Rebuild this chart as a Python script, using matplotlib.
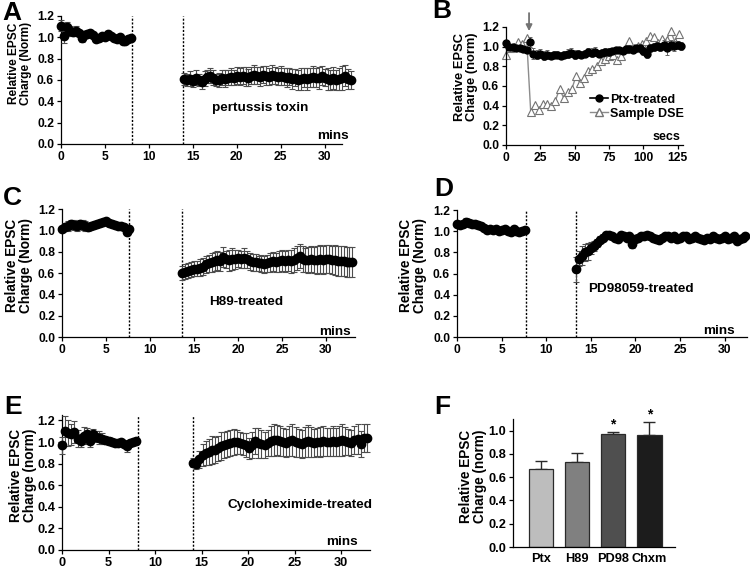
import numpy as np
import matplotlib
matplotlib.use("Agg")
import matplotlib.pyplot as plt

plt.rcParams["font.family"] = ["Liberation Sans", "DejaVu Sans"]
plt.rcParams["font.weight"] = "bold"
plt.rcParams["axes.labelweight"] = "bold"

DT = 1 / 3.0  # sampling interval (min)

# ---- panel A: pertussis toxin ----
a_base_t0, a_post_t0 = 0.0, 14.0
a_base = [1.11, 1.01, 1.10, 1.06, 1.05, 1.06, 1.04, 0.99, 1.02, 1.03, 1.04, 1.02, 0.98,
          0.99, 1.01, 1.00, 1.03, 1.01, 0.99, 0.98, 1.00, 0.97, 0.97, 0.98, 0.99]
a_base_err = [0.05, 0.06, 0.04, 0.05, 0.04, 0.05, 0.03, 0.03, 0.03, 0.03, 0.02, 0.03, 0.02,
              0.02, 0.02, 0.02, 0.02, 0.02, 0.02, 0.02, 0.02, 0.02, 0.02, 0.02, 0.02]
a_post = [0.61, 0.60, 0.61, 0.59, 0.62, 0.60, 0.58, 0.61, 0.63, 0.64,
          0.62, 0.60, 0.60, 0.62, 0.61, 0.62, 0.63, 0.62, 0.64, 0.63,
          0.64, 0.63, 0.62, 0.64, 0.65, 0.64, 0.63, 0.65, 0.64, 0.63,
          0.65, 0.64, 0.63, 0.64, 0.63, 0.62, 0.63, 0.61, 0.62, 0.60,
          0.61, 0.62, 0.61, 0.62, 0.63, 0.62, 0.62, 0.64, 0.62, 0.61,
          0.60, 0.62, 0.60, 0.61, 0.62, 0.64, 0.61, 0.60]
a_post_err = [0.06, 0.06, 0.07, 0.06, 0.07, 0.06, 0.06, 0.07, 0.06, 0.07,
              0.07, 0.06, 0.07, 0.07, 0.08, 0.07, 0.08, 0.07, 0.08, 0.08,
              0.08, 0.09, 0.08, 0.08, 0.09, 0.08, 0.09, 0.08, 0.09, 0.08,
              0.09, 0.08, 0.08, 0.09, 0.08, 0.09, 0.08, 0.09, 0.08, 0.09,
              0.10, 0.09, 0.10, 0.09, 0.10, 0.09, 0.10, 0.09, 0.08, 0.10,
              0.09, 0.10, 0.09, 0.10, 0.11, 0.10, 0.09, 0.08]

# ---- panel B: Ptx-treated DSE vs sample DSE (secs) ----
b_ptx_dt = 2.5
b_ptx = [1.04, 1.00, 1.00, 0.99, 0.99, 0.98, 0.97, 1.05, 0.93, 0.92,
         0.93, 0.91, 0.92, 0.91, 0.92, 0.92, 0.91, 0.92, 0.93, 0.94,
         0.92, 0.93, 0.92, 0.93, 0.95, 0.94, 0.95, 0.93, 0.94, 0.95,
         0.95, 0.96, 0.97, 0.97, 0.96, 0.98, 0.98, 0.97, 0.99, 0.99,
         0.96, 0.93, 0.99, 1.00, 1.01, 1.00, 1.02, 0.99, 1.02, 1.01,
         1.02, 1.01]
b_ptx_err = [0.03, 0.03, 0.03, 0.02, 0.02, 0.03, 0.03, 0.05, 0.06, 0.05,
             0.05, 0.05, 0.05, 0.04, 0.04, 0.04, 0.04, 0.04, 0.05, 0.05,
             0.05, 0.04, 0.04, 0.04, 0.04, 0.05, 0.05, 0.04, 0.04, 0.04,
             0.04, 0.03, 0.03, 0.03, 0.03, 0.03, 0.03, 0.03, 0.03, 0.04,
             0.04, 0.05, 0.04, 0.04, 0.04, 0.04, 0.05, 0.07, 0.05, 0.05,
             0.04, 0.04]
b_dse_dt = 3.0
b_dse = [0.92, 0.99, 1.00, 1.05, 1.03, 1.09, 0.34, 0.41, 0.36, 0.42,
         0.42, 0.40, 0.45, 0.57, 0.48, 0.54, 0.57, 0.70, 0.63, 0.68,
         0.75, 0.77, 0.80, 0.85, 0.87, 0.90, 0.92, 0.86, 0.90, 0.98,
         1.06, 0.99, 1.01, 1.03, 1.06, 1.11, 1.10, 1.04, 1.08, 1.07,
         1.16, 1.05, 1.13]
b_arrow_x = 16.8

# ---- panel C: H89 ----
c_base_t0, c_post_t0 = 0.0, 13.67
c_base = [1.01, 1.03, 1.04, 1.06, 1.05, 1.04, 1.06, 1.05, 1.04, 1.03, 1.04, 1.05,
          1.06, 1.07, 1.08, 1.09, 1.07, 1.06, 1.05, 1.04, 1.04, 1.03, 0.98, 1.01]
c_base_err = [0.03, 0.04, 0.05, 0.04, 0.05, 0.05, 0.04, 0.05, 0.05, 0.04, 0.03, 0.03,
              0.03, 0.03, 0.03, 0.02, 0.02, 0.02, 0.02, 0.02, 0.02, 0.02, 0.02, 0.02]
c_post = [0.60, 0.61, 0.62, 0.63, 0.64, 0.64, 0.65, 0.66, 0.68, 0.69,
          0.70, 0.71, 0.72, 0.71, 0.75, 0.73, 0.72, 0.73, 0.73, 0.74,
          0.73, 0.74, 0.73, 0.71, 0.70, 0.70, 0.69, 0.69, 0.68, 0.69,
          0.70, 0.71, 0.70, 0.71, 0.72, 0.71, 0.72, 0.71, 0.72, 0.74,
          0.76, 0.73, 0.72, 0.72, 0.73, 0.72, 0.72, 0.73, 0.72, 0.73,
          0.73, 0.72, 0.72, 0.71, 0.71, 0.71, 0.70, 0.70, 0.70]
c_post_err = [0.07, 0.07, 0.07, 0.07, 0.07, 0.07, 0.08, 0.08, 0.08, 0.08,
              0.09, 0.09, 0.09, 0.09, 0.09, 0.08, 0.10, 0.10, 0.09, 0.08,
              0.08, 0.09, 0.08, 0.08, 0.08, 0.08, 0.07, 0.08, 0.08, 0.08,
              0.09, 0.09, 0.09, 0.10, 0.10, 0.10, 0.10, 0.11, 0.11, 0.11,
              0.11, 0.12, 0.11, 0.12, 0.12, 0.12, 0.13, 0.13, 0.13, 0.13,
              0.13, 0.13, 0.14, 0.14, 0.14, 0.14, 0.14, 0.14, 0.14]

# ---- panel D: PD98059 ----
d_base_t0, d_post_t0 = 0.0, 13.33
d_base = [1.07, 1.06, 1.07, 1.09, 1.08, 1.07, 1.07, 1.06, 1.05, 1.03, 1.01, 1.02,
          1.01, 1.02, 1.00, 1.01, 1.02, 1.00, 0.99, 1.02, 1.00, 0.99, 1.00, 1.01]
d_base_err = [0.02, 0.02, 0.03, 0.03, 0.03, 0.02, 0.02, 0.02, 0.03, 0.03, 0.03, 0.02,
              0.02, 0.03, 0.02, 0.02, 0.02, 0.03, 0.03, 0.02, 0.02, 0.02, 0.02, 0.02]
d_post = [0.64, 0.74, 0.77, 0.80, 0.81, 0.84, 0.86, 0.89, 0.92, 0.94,
          0.96, 0.96, 0.95, 0.94, 0.93, 0.96, 0.95, 0.94, 0.95, 0.88,
          0.93, 0.94, 0.95, 0.95, 0.96, 0.95, 0.94, 0.93, 0.92, 0.94,
          0.95, 0.95, 0.94, 0.95, 0.93, 0.94, 0.95, 0.95, 0.93, 0.94,
          0.95, 0.94, 0.93, 0.92, 0.94, 0.93, 0.95, 0.94, 0.93, 0.94,
          0.95, 0.93, 0.94, 0.95, 0.91, 0.93, 0.94, 0.95]
d_post_err = [0.12, 0.07, 0.09, 0.08, 0.08, 0.06, 0.05, 0.04, 0.03, 0.03,
              0.02, 0.02, 0.02, 0.03, 0.02, 0.02, 0.03, 0.02, 0.02, 0.04,
              0.03, 0.02, 0.02, 0.02, 0.02, 0.02, 0.02, 0.03, 0.03, 0.02,
              0.02, 0.02, 0.02, 0.02, 0.03, 0.02, 0.02, 0.02, 0.02, 0.02,
              0.02, 0.02, 0.02, 0.03, 0.02, 0.02, 0.02, 0.02, 0.02, 0.02,
              0.02, 0.02, 0.02, 0.02, 0.03, 0.02, 0.02, 0.02]

# ---- panel E: cycloheximide ----
e_base_t0, e_post_t0 = 0.0, 14.1
e_base = [0.97, 1.10, 1.08, 1.07, 1.09, 1.03, 1.01, 1.06, 1.07, 1.01, 1.07, 1.05, 1.04,
          1.03, 1.02, 1.01, 1.00, 0.99, 0.99, 1.00, 0.98, 0.96, 0.99, 1.00, 1.01]
e_base_err = [0.08, 0.14, 0.12, 0.10, 0.10, 0.08, 0.06, 0.08, 0.06, 0.06, 0.05, 0.05, 0.06,
              0.05, 0.04, 0.04, 0.03, 0.03, 0.03, 0.03, 0.03, 0.05, 0.02, 0.02, 0.02]
e_post = [0.81, 0.80, 0.84, 0.88, 0.90, 0.91, 0.93, 0.93, 0.94, 0.96,
          0.97, 0.98, 0.99, 1.00, 1.00, 0.99, 0.98, 0.97, 0.94, 0.97,
          1.01, 0.99, 0.98, 0.97, 0.99, 1.01, 1.02, 1.02, 1.01, 1.00,
          0.99, 1.01, 1.02, 1.00, 0.99, 0.98, 1.00, 1.01, 1.00, 0.99,
          1.00, 1.00, 1.01, 1.00, 1.00, 1.01, 1.00, 1.01, 1.02, 1.01,
          1.00, 0.99, 1.02, 1.03, 0.98, 1.04, 1.04]
e_post_err = [0.04, 0.05, 0.08, 0.10, 0.11, 0.12, 0.13, 0.12, 0.12, 0.13,
              0.12, 0.12, 0.12, 0.12, 0.11, 0.10, 0.10, 0.11, 0.10, 0.12,
              0.12, 0.14, 0.13, 0.12, 0.12, 0.14, 0.15, 0.14, 0.14, 0.13,
              0.13, 0.14, 0.15, 0.14, 0.13, 0.13, 0.14, 0.15, 0.14, 0.13,
              0.13, 0.14, 0.14, 0.13, 0.13, 0.14, 0.13, 0.14, 0.15, 0.13,
              0.12, 0.12, 0.13, 0.14, 0.12, 0.13, 0.13]

# ---- panel F: summary bars ----
f_labels = ["Ptx", "H89", "PD98", "Chxm"]
f_means = [0.67, 0.73, 0.97, 0.96]
f_sem = [0.07, 0.08, 0.02, 0.11]
f_colors = ["#bdbdbd", "#808080", "#4f4f4f", "#1c1c1c"]
f_signif = [False, False, True, True]

TICK_FS = 8.7
TXT_FS = 9.7
LETTER_FS = 19


def style(ax, ylabel, labcoords, labfs):
    for s in ("top", "right"):
        ax.spines[s].set_visible(False)
    for s in ("left", "bottom"):
        ax.spines[s].set_linewidth(0.9)
    ax.tick_params(direction="out", length=3, width=0.9, labelsize=TICK_FS, pad=2)
    for lab in ax.get_xticklabels() + ax.get_yticklabels():
        lab.set_fontweight("bold")
    ax.set_ylabel(ylabel, fontsize=labfs, fontweight="bold", linespacing=1.0)
    # x of label coords is the right edge of the rotated two-line label
    ax.yaxis.set_label_coords(*labcoords)


def time_panel(ax, base, base_err, t0b, post, post_err, t0p, vlines, xmax, ylabel,
               labcoords, labfs, text, textxy, minsxy, ytop=1.2):
    tb = t0b + np.arange(len(base)) * DT
    tp = t0p + np.arange(len(post)) * DT
    for t, v, e in ((tb, base, base_err), (tp, post, post_err)):
        ax.errorbar(t, v, yerr=e, fmt="o", color="k", ms=6, ecolor="0.3",
                    elinewidth=0.8, capsize=2, capthick=0.8, clip_on=False, zorder=3)
    for x in vlines:
        ax.axvline(x, color="k", ls=(0, (1.5, 1.2)), lw=1.0, zorder=1)
    ax.set_xlim(0, xmax)
    ax.set_ylim(0, ytop)
    ax.set_xticks([0, 5, 10, 15, 20, 25, 30])
    ax.set_yticks(np.arange(0, 1.21, 0.2))
    ax.set_yticklabels([f"{v:.1f}" for v in np.arange(0, 1.21, 0.2)])
    ax.text(*textxy, text, fontsize=TXT_FS, fontweight="bold", ha="center", va="center")
    ax.text(*minsxy, "mins", fontsize=TXT_FS, fontweight="bold", ha="center", va="center")
    style(ax, ylabel, labcoords, labfs)


W, H = 750, 568
fig = plt.figure(figsize=(7.5, 5.68), dpi=100)


def rect(l, r, top, bot):
    return [l / W, 1 - bot / H, (r - l) / W, (bot - top) / H]


axA = fig.add_axes(rect(61, 351, 16, 144))
axB = fig.add_axes(rect(506, 683, 27, 145))
axC = fig.add_axes(rect(62, 355, 209, 337))
axD = fig.add_axes(rect(457, 747, 210, 337))
axE = fig.add_axes(rect(62, 370, 415, 550))
axF = fig.add_axes(rect(513, 675, 419, 547))

time_panel(axA, a_base, a_base_err, a_base_t0, a_post, a_post_err, a_post_t0, [8.1, 13.9],
           33, "Relative EPSC\nCharge (Norm)", (-0.10, 0.63), 8.6, "pertussis toxin",
           (22.7, 0.34), (30.9, 0.075))
axA.spines["bottom"].set_bounds(0, 32)

time_panel(axC, c_base, c_base_err, c_base_t0, c_post, c_post_err, c_post_t0, [7.6, 13.6],
           33.3, "Relative EPSC\nCharge (Norm)", (-0.099, 0.56), 9.8, "H89-treated",
           (20.9, 0.33), (31.0, 0.05))

time_panel(axD, d_base, d_base_err, d_base_t0, d_post, d_post_err, d_post_t0, [7.7, 13.3],
           32.5, "Relative EPSC\nCharge (Norm)", (-0.103, 0.56), 9.8, "PD98059-treated",
           (20.6, 0.45), (29.3, 0.053))

time_panel(axE, e_base, e_base_err, e_base_t0, e_post, e_post_err, e_post_t0, [8.2, 14.1],
           33.1, "Relative EPSC\nCharge (norm)", (-0.081, 0.55), 9.8,
           "Cycloheximide-treated", (25.6, 0.415), (30.1, 0.077), ytop=1.25)
axE.tick_params(labelsize=9.2)

# ---- B ----
tb_ptx = np.arange(len(b_ptx)) * b_ptx_dt
tb_dse = np.arange(len(b_dse)) * b_dse_dt
axB.plot(tb_dse, b_dse, "-^", color="0.55", mfc="white", mec="0.45", ms=5.5, lw=1.0,
         mew=0.8, clip_on=False, zorder=2, label="Sample DSE")
axB.errorbar(tb_ptx, b_ptx, yerr=b_ptx_err, fmt="o", color="k", ms=5, ecolor="0.4",
             elinewidth=0.7, capsize=1.5, capthick=0.7, zorder=3, clip_on=False)
axB.set_xlim(0, 129)
axB.set_ylim(0, 1.2)
axB.set_xticks([0, 25, 50, 75, 100, 125])
axB.set_yticks(np.arange(0, 1.21, 0.2))
axB.set_yticklabels([f"{v:.1f}" for v in np.arange(0, 1.21, 0.2)])
h_ptx, = axB.plot([], [], "-o", color="k", ms=5, lw=1.2)
h_dse, = axB.plot([], [], "-^", color="0.55", mfc="white", mec="0.45", ms=5.5, lw=1.0)
axB.legend([h_ptx, h_dse], ["Ptx-treated", "Sample DSE"], frameon=False,
           loc="center left", bbox_to_anchor=(0.44, 0.325),
           handlelength=1.4, handletextpad=0.2, labelspacing=0.15, borderpad=0,
           prop={"weight": "bold", "size": 9})
axB.annotate("", xy=(b_arrow_x, 1.13), xytext=(b_arrow_x, 1.37),
             arrowprops=dict(arrowstyle="-|>", color="0.45", lw=1.3, mutation_scale=9),
             annotation_clip=False)
axB.text(117, 0.085, "secs", fontsize=9, fontweight="bold", ha="center", va="center")
style(axB, "Relative EPSC\nCharge (norm)", (-0.158, 0.58), 9.3)

# ---- F ----
xf = np.arange(len(f_labels))
axF.bar(xf, f_means, width=0.68, color=f_colors, edgecolor="#2a2a2a", linewidth=0.9,
        zorder=2)
axF.errorbar(xf, f_means, yerr=[np.zeros(len(f_sem)), f_sem], fmt="none", ecolor="#2a2a2a",
             elinewidth=1.0, capsize=4.5, capthick=1.0, zorder=1)
for x, m, s, sig in zip(xf, f_means, f_sem, f_signif):
    if sig:
        axF.text(x, m + s + 0.005, "*", fontsize=10, fontweight="bold", ha="center",
                 va="bottom", clip_on=False)
axF.set_xlim(-0.77, 3.71)
axF.set_ylim(0, 1.1)
axF.set_xticks(xf)
axF.set_xticklabels(f_labels)
axF.set_yticks(np.arange(0, 1.01, 0.2))
axF.set_yticklabels([f"{v:.1f}" for v in np.arange(0, 1.01, 0.2)])
style(axF, "Relative EPSC\nCharge (norm)", (-0.16, 0.55), 9.8)
axF.tick_params(axis="x", length=0, labelsize=9.2, pad=4)
axF.tick_params(axis="y", labelsize=9.2)

# panel letters
for letter, (px, py) in zip("ABCDEF", [(12, 13), (442, 11), (12, 198), (444, 189),
                                       (13, 407), (442, 407)]):
    fig.text(px / W, 1 - py / H, letter, fontsize=LETTER_FS, fontweight="bold",
             ha="center", va="center")

fig.savefig("out.png", dpi=100)
